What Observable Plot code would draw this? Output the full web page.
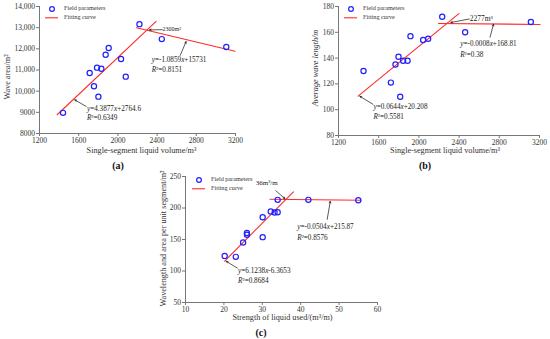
<!DOCTYPE html>
<html><head><meta charset="utf-8">
<script src="https://cdn.jsdelivr.net/npm/d3@7"></script>
<script src="https://cdn.jsdelivr.net/npm/@observablehq/plot@0.6"></script>
<style>
body{margin:0;background:#fff;}
#root{position:relative;width:550px;height:339px;background:#fff;overflow:hidden;font-family:"Liberation Serif","Times New Roman",serif;}
.pnl{position:absolute;}
.tag{position:absolute;font-weight:bold;font-size:10px;transform:translate(-50%,-50%);color:#111;}
.leg{position:absolute;}
</style>
</head><body><div id="root"></div>
<script>
// ---------- Panel (a) ----------
const aVolume = [1440,1712,1756,1787,1801,1831,1875,1906,2032,2080,2220,2448,3106];
const aArea   = [8975,10860,10230,11110,9740,11060,11720,12040,11520,10685,13165,12460,12085];
const aFit1X = [1380,2390], aFit1Y = [8885,13300];
const aFit2X = [2190,3195], aFit2Y = [13000,11890];
const aXTicks = [1200,1600,2000,2400,2800,3200];
const aYTicks = [8000,9000,10000,11000,12000,13000,14000];
const aEqText = ["y=4.3877x+2764.6","R²=0.6349","y=-1.0859x+15731","R²=0.8151"];
const aEqX = [1684,1684,2345,2345];
const aEqY = [9170,8725,11510,11030];
const aNoteText = ["2300m³"], aNoteX = [2455], aNoteY = [12945];
const aArrX1 = [1675,2636,2452], aArrY1 = [9280,11690,12905];
const aArrX2 = [1560,2696,2322], aArrY2 = [9590,12345,12895];

// ---------- Panel (b) ----------
const bVolume = [1449,1721,1767,1797,1814,1843,1887,1916,2042,2092,2232,2460,3114];
const bLength = [130,121,135,141,110,138,138,157,154,155,172,160,168];
const bFit1X = [1395,2398], bFit1Y = [110.5,174.5];
const bFit2X = [2195,3205], bFit2Y = [166.8,166.1];
const bXTicks = [1200,1600,2000,2400,2800,3200];
const bYTicks = [80,100,120,140,160,180];
const bEqText = ["y=0.0644x+20.208","R²=0.5581","y=-0.0008x+168.81","R²=0.38"];
const bEqX = [1548,1548,2411,2411];
const bEqY = [102.6,94.3,151,142.8];
const bNoteText = ["2277m³"], bNoteX = [2505], bNoteY = [170.4];
const bArrX1 = [1543,2708,2500], bArrY1 = [104.2,156.2,170.3];
const bArrX2 = [1413,2742,2318], bArrY2 = [110.4,166.2,167.6];

// ---------- Panel (c) ----------
const cStrength = [20.2,23.1,25,26,26,30.1,30.1,32.2,33.2,34,34,42,55];
const cValue    = [124,122.5,145.3,160.2,157.5,153.7,185.4,194.4,192.8,193.3,212.9,212.9,212.4];
const cFit1X = [20.2,38.1], cFit1Y = [115.8,225.5];
const cFit2X = [32,55.7], cFit2Y = [213.8,212.2];
const cXTicks = [10,20,30,40,50,60];
const cYTicks = [50,100,150,200,250];
const cEqText = ["y=6.1238x-6.3653","R²=0.8684","y=-0.0504x+215.87","R²=0.8576"];
const cEqX = [23.7,23.7,39.1,39.1];
const cEqY = [100,84.2,169.6,153.3];
const cNoteText = ["36m³/m"], cNoteX = [28.3], cNoteY = [239.4];
const cArrX1 = [23.5,46.9,33.5], cArrY1 = [104.6,182,227.5];
const cArrX2 = [20.6,47.7,35.9], cArrY2 = [115.4,210.6,214.8];

const legendLabels = ["Field parameters","Fitting curve"];

const FONT = "Liberation Serif";
const svgns = "http://www.w3.org/2000/svg";

function italicize(svg){
  d3.select(svg).selectAll("text").each(function(){
    const t = this.textContent;
    if(!/^(y=|R²=)/.test(t)) return;
    this.textContent = "";
    for(const ch of t){
      const ts = document.createElementNS(svgns,"tspan");
      ts.textContent = ch;
      if(/[xyR]/.test(ch)) ts.setAttribute("font-style","italic");
      this.appendChild(ts);
    }
  });
}

function panel(o){
  const svg = Plot.plot({
    width:o.w, height:o.h,
    marginLeft:o.ml, marginRight:o.mr, marginTop:o.mt, marginBottom:o.mb,
    style:{fontFamily:FONT, background:"transparent", overflow:"visible"},
    x:{domain:[o.xTicks[0], o.xTicks[o.xTicks.length-1]]},
    y:{domain:[o.yTicks[0], o.yTicks[o.yTicks.length-1]]},
    marks:[
      Plot.axisX({ticks:o.xTicks, tickSize:3, tickPadding:1.5, fontSize:7.5, label:null, stroke:"#777", fill:"#333", tickFormat:d=>String(d)}),
      Plot.axisY({ticks:o.yTicks, tickSize:3, tickPadding:1.5, fontSize:7.5, label:null, stroke:"#777", fill:"#333", tickFormat:o.yFormat}),
      Plot.ruleX([o.xTicks[0]], {stroke:"#777", strokeWidth:1}),
      Plot.ruleY([o.yTicks[0]], {stroke:"#777", strokeWidth:1}),
      Plot.line(o.f1x, {x:o.f1x, y:o.f1y, stroke:"#ff2a2a", strokeWidth:1.1}),
      Plot.line(o.f2x, {x:o.f2x, y:o.f2y, stroke:"#ff2a2a", strokeWidth:1.1}),
      Plot.dot(o.px, {x:o.px, y:o.py, r:2.6, stroke:"#2020ff", strokeWidth:1.2, fill:"none"}),
      Plot.arrow(o.ax1, {x1:o.ax1, y1:o.ay1, x2:o.ax2, y2:o.ay2, stroke:"#111", strokeWidth:0.7, headLength:4, headAngle:50}),
      Plot.text(o.eqText, {x:o.eqX, y:o.eqY, text:d=>d, textAnchor:"start", lineAnchor:"middle", fontSize:7.2, fill:"#222"}),
      Plot.text(o.noteText, {x:o.noteX, y:o.noteY, text:d=>d, textAnchor:"start", lineAnchor:"middle", fontSize:o.noteSize, fill:"#222"}),
      Plot.text([o.xLabel], {frameAnchor:"bottom", textAnchor:"middle", dy:o.xLabelDy, dx:o.xLabelDx, lineAnchor:"middle", fontSize:8.2, fill:"#333"}),
      Plot.text([o.yLabel], {frameAnchor:"left", textAnchor:"middle", dx:o.yLabelDx, dy:o.yLabelDy, rotate:-90, lineAnchor:"middle", fontSize:8.2, fill:"#333", fontStyle:o.yItalic ? "italic" : "normal"})
    ]
  });
  italicize(svg);
  svg.classList.add("pnl");
  svg.style.left = o.left + "px";
  svg.style.top = o.top + "px";
  document.getElementById("root").appendChild(svg);
}

function legend(left, top){
  const div = document.createElement("div");
  div.className = "leg";
  div.style.left = left + "px"; div.style.top = top + "px";
  div.innerHTML = `<svg width="70" height="24" style="overflow:visible">
    <circle cx="7" cy="4" r="2.4" fill="none" stroke="#2020ff" stroke-width="1.2"/>
    <text x="19" y="4" dominant-baseline="middle" font-family="${FONT}" font-size="6.2" fill="#333">${legendLabels[0]}</text>
    <line x1="0" x2="13" y1="12.8" y2="12.8" stroke="#ff2a2a" stroke-width="1.1"/>
    <text x="19" y="12.8" dominant-baseline="middle" font-family="${FONT}" font-size="6.2" fill="#333">${legendLabels[1]}</text>
  </svg>`;
  document.getElementById("root").appendChild(div);
}

function tag(txt, x, y){
  const d = document.createElement("div");
  d.className = "tag"; d.textContent = txt;
  d.style.left = x + "px"; d.style.top = y + "px";
  document.getElementById("root").appendChild(d);
}

panel({left:0, top:0, w:275, h:170, ml:39, mr:40, mt:6, mb:37,
  xTicks:aXTicks, yTicks:aYTicks, yFormat:d => d >= 10000 ? d3.format(",")(d) : String(d),
  px:aVolume, py:aArea, f1x:aFit1X, f1y:aFit1Y, f2x:aFit2X, f2y:aFit2Y,
  ax1:aArrX1, ay1:aArrY1, ax2:aArrX2, ay2:aArrY2,
  eqText:aEqText, eqX:aEqX, eqY:aEqY, noteText:aNoteText, noteX:aNoteX, noteY:aNoteY, noteSize:6,
  xLabel:"Single-segment liquid volume/m³", xLabelDy:17, xLabelDx:4,
  yLabel:"Wave area/m²", yLabelDx:-32, yLabelDy:7, yItalic:false});

panel({left:275, top:0, w:275, h:170, ml:63, mr:11, mt:6, mb:35,
  xTicks:bXTicks, yTicks:bYTicks, yFormat:d => String(d),
  px:bVolume, py:bLength, f1x:bFit1X, f1y:bFit1Y, f2x:bFit2X, f2y:bFit2Y,
  ax1:bArrX1, ay1:bArrY1, ax2:bArrX2, ay2:bArrY2,
  eqText:bEqText, eqX:bEqX, eqY:bEqY, noteText:bNoteText, noteX:bNoteX, noteY:bNoteY, noteSize:7.5,
  xLabel:"Single-segment liquid volume/m³", xLabelDy:15, xLabelDx:6,
  yLabel:"Average wave length/m", yLabelDx:-23, yLabelDy:-3, yItalic:true});

panel({left:130, top:170, w:290, h:169, ml:55, mr:43, mt:6, mb:37,
  xTicks:cXTicks, yTicks:cYTicks, yFormat:d => String(d),
  px:cStrength, py:cValue, f1x:cFit1X, f1y:cFit1Y, f2x:cFit2X, f2y:cFit2Y,
  ax1:cArrX1, ay1:cArrY1, ax2:cArrX2, ay2:cArrY2,
  eqText:cEqText, eqX:cEqX, eqY:cEqY, noteText:cNoteText, noteX:cNoteX, noteY:cNoteY, noteSize:7,
  xLabel:"Strength of liquid used/(m³/m)", xLabelDy:15, xLabelDx:1,
  yLabel:"Wavelength and area per unit segment/m²", yLabelDx:-22, yLabelDy:-1, yItalic:false});

legend(45, 5);
legend(344, 5);
legend(192, 176);

tag("(a)", 118, 165);
tag("(b)", 425, 165);
tag("(c)", 261, 332);
</script>
</body></html>
